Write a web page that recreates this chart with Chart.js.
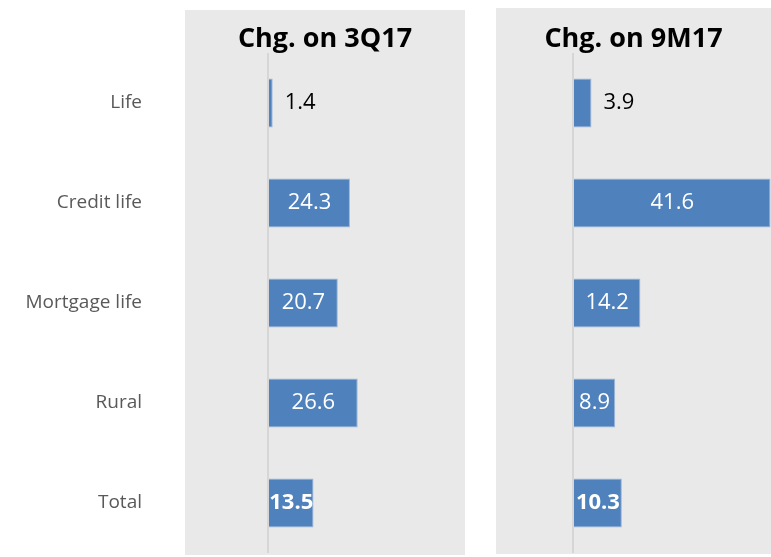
<!DOCTYPE html>
<html>
<head>
<meta charset="utf-8">
<script src="https://cdn.jsdelivr.net/npm/chart.js@4.4.1/dist/chart.umd.min.js"></script>
<style>
  body { margin: 0; background: #fff; }
  #wrap { position: relative; width: 771px; height: 557px; overflow: hidden; }
  .panel { position: absolute; background: #e9e9e9; }
  canvas { position: absolute; }
</style>
</head>
<body>
<div id="wrap">
  <div class="panel" style="left:185px; top:10px; width:280px; height:545px;"></div>
  <div class="panel" style="left:496px; top:8px; width:290px; height:546px;"></div>
  <canvas id="leftChart" style="left:0; top:0;" width="480" height="557"></canvas>
  <canvas id="rightChart" style="left:496px; top:0;" width="275" height="557"></canvas>
</div>
<script>
    // Chart data
    var categories = ['Life', 'Credit life', 'Mortgage life', 'Rural', 'Total'];
    var chg3Q17 = [1.4, 24.3, 20.7, 26.6, 13.5];
    var chg9M17 = [3.9, 41.6, 14.2, 8.9, 10.3];
    var titles = ['Chg. on 3Q17', 'Chg. on 9M17'];

    var barColor = '#4f81bd';

    // Value labels: small values outside in black, others centred in white, total in bold
    var valueLabels = {
        id: 'valueLabels',
        afterDatasetsDraw: function (chart) {
            var ctx = chart.ctx;
            var vals = chart.data.datasets[0].data;
            chart.getDatasetMeta(0).data.forEach(function (bar, i) {
                var v = vals[i];
                var txt = v.toFixed(1);
                var bold = i === vals.length - 1;
                ctx.save();
                ctx.font = (bold ? 'bold ' : '') + '22px "Open Sans"';
                ctx.textBaseline = 'middle';
                if (v < 5) {
                    ctx.fillStyle = '#000';
                    ctx.textAlign = 'left';
                    ctx.fillText(txt, bar.x + 12, bar.y);
                } else {
                    ctx.fillStyle = '#fff';
                    ctx.textAlign = 'center';
                    ctx.fillText(txt, (bar.x + bar.base) / 2, bar.y);
                }
                ctx.restore();
            });
        }
    };

    function makeChart(id, title, values, xMin, xMax, showCats, padRight) {
        var ctx = document.getElementById(id).getContext('2d');
        return new Chart(ctx, {
            type: 'bar',
            data: {
                labels: categories,
                datasets: [{
                    data: values,
                    backgroundColor: barColor,
                    borderColor: '#9db6d8',
                    borderWidth: 1,
                    categoryPercentage: 1,
                    barPercentage: 0.49
                }]
            },
            options: {
                indexAxis: 'y',
                responsive: false,
                animation: false,
                layout: { padding: { left: 0, right: padRight, top: 0, bottom: 4 } },
                scales: {
                    x: {
                        min: xMin,
                        max: xMax,
                        afterBuildTicks: function (s) { s.ticks = [{ value: 0 }]; },
                        ticks: { display: false },
                        border: { display: false },
                        grid: {
                            drawTicks: false,
                            color: '#d6d6d6',
                            lineWidth: 2
                        }
                    },
                    y: {
                        display: showCats,
                        afterFit: function (s) {
                            if (showCats) {
                                s.width = 185;
                                s.paddingTop = 0;
                                s.paddingBottom = 0;
                            }
                        },
                        grid: { display: false, drawTicks: false },
                        border: { display: false },
                        ticks: {
                            color: '#595959',
                            padding: 43,
                            font: { family: '"Open Sans"', size: 19 }
                        }
                    }
                },
                plugins: {
                    legend: { display: false },
                    tooltip: { enabled: false },
                    title: {
                        display: true,
                        text: title,
                        fullSize: false,
                        color: '#000',
                        font: { family: '"Open Sans"', size: 27, weight: 'bold', lineHeight: 1 },
                        padding: { top: 26, bottom: 0 }
                    }
                }
            },
            plugins: [valueLabels]
        });
    }

    makeChart('leftChart', titles[0], chg3Q17, -24.6, 58.4, true, 15);
    makeChart('rightChart', titles[1], chg9M17, -16.2, 41.7, false, 0);
</script>
</body>
</html>
